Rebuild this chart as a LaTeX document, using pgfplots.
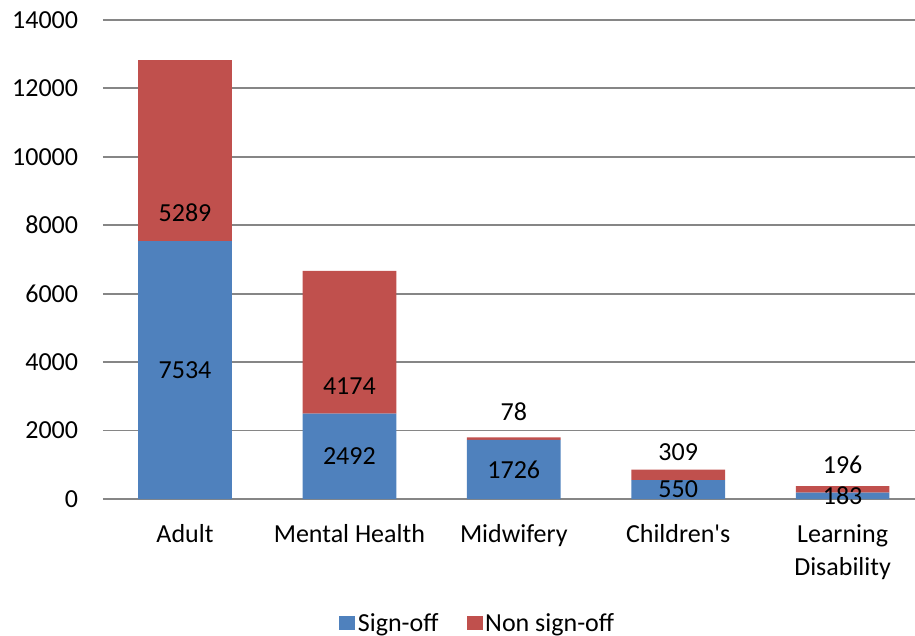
\documentclass[border=0pt]{standalone}
\usepackage{fontspec}
\setmainfont{Carlito}
\usepackage{pgfplots}
\pgfplotsset{compat=1.18}
\usepackage{pgfplotstable}

\definecolor{signblue}{HTML}{4F81BD}
\definecolor{nonred}{HTML}{C0504D}
\definecolor{gridgray}{HTML}{868686}
\newcommand\lbl{\fontsize{19.5}{24.75}\selectfont}

% placements by field: sign-off and non sign-off counts
\pgfplotstableread{
x sign non
0 7534 5289
1 2492 4174
2 1726 78
3 550 309
4 183 196
}\counts

\begin{document}
\begin{tikzpicture}
\begin{axis}[
  x=123.3pt, y=0.025661pt,
  xmin=-0.5, xmax=4.44, ymin=0, ymax=14000,
  ybar stacked, bar width=0.57,
  axis line style={draw=none},
  major tick length=0pt,
  ytick={0,2000,...,14000},
  scaled y ticks=false,
  /pgf/number format/1000 sep={},
  /pgf/number format/assume math mode=true,
  ymajorgrids,
  grid style={gridgray, line width=1.4pt},
  xtick=data,
  xticklabels={Adult, Mental Health, Midwifery, Children\textquotesingle s, {Learning\\Disability}},
  xticklabel style={font=\lbl, align=center, yshift=-15.5pt},
  yticklabel style={font=\lbl, xshift=-15pt},
  nodes near coords,
  % labels sit at the middle of their segment, moved by \lblshift data units
  every node near coord/.append style={font=\lbl, text=black, anchor=center,
    yshift=\lblshift*0.025661pt},
  legend columns=2,
  legend style={draw=none, at={(0.462,-0.259)}, anchor=center, font=\lbl,
    nodes={inner xsep=2pt},
    /tikz/every even column/.append style={column sep=19pt}},
  legend image code/.code={\fill[#1] (0pt,-5.2pt) rectangle (12pt,5.2pt);},
]
\coordinate (psw) at (rel axis cs:0,0);
\addplot[fill=signblue, draw=none,
  visualization depends on={0 \as \lblshift}]
  table[x=x, y=sign, meta=sign] {\counts};
\addlegendentry{Sign-off}
% non sign-off labels sit just above the base of their segment
\addplot[fill=nonred, draw=none,
  visualization depends on={820-0.5*\thisrow{non} \as \lblshift}]
  table[x=x, y=non, meta=non] {\counts};
\addlegendentry{Non sign-off}
\end{axis}
\pgfresetboundingbox
\useasboundingbox (psw) ++(-77.1pt,-102.75pt) rectangle ++(686.25pt,477pt);
\end{tikzpicture}
\end{document}
